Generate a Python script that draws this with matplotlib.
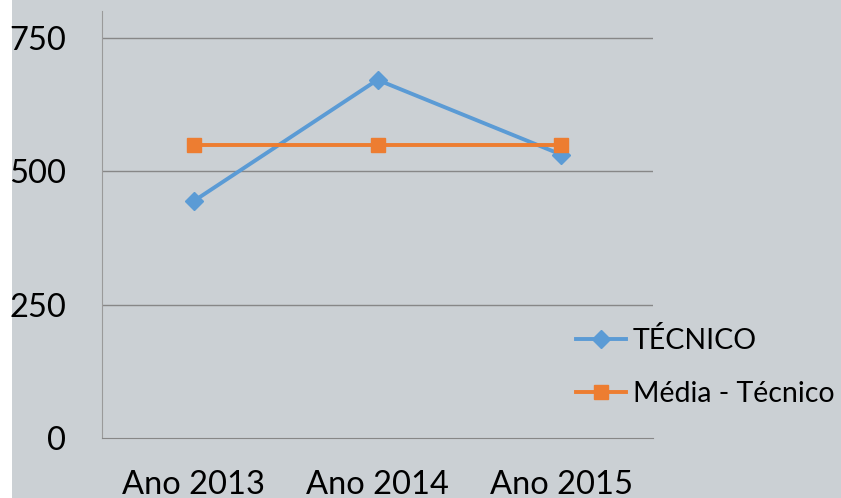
import numpy as np
import matplotlib.pyplot as plt
from matplotlib.patches import Rectangle

# data
anos = ['Ano 2013', 'Ano 2014', 'Ano 2015']
tecnico = [444, 671, 531]
media_tecnico = [549, 549, 549]
yticks = [0, 250, 500, 750]

plt.rcParams['font.family'] = ['Lato', 'DejaVu Sans']

bg = '#cbd0d4'
blue = '#5b9bd5'
orange = '#ed7d31'
grid = '#878787'

W, H = 841, 498
fig = plt.figure(figsize=(W/100, H/100), dpi=100, facecolor=bg)
# white strip on the left edge
fig.patches.append(Rectangle((0, 0), 12/W, 1, transform=fig.transFigure,
                             facecolor='white', edgecolor='none', zorder=-1))

ax = fig.add_axes([102/W, 1-438/H, (653-102)/W, (438-11)/H])
ax.set_facecolor(bg)

x = np.arange(len(anos))
ax.plot(x, tecnico, color=blue, lw=2.8, marker='D', ms=9, label='TÉCNICO',
        zorder=3)
ax.plot(x, media_tecnico, color=orange, lw=2.8, marker='s', ms=10,
        label='Média - Técnico', zorder=4)

ax.set_xlim(-0.5, len(anos)-0.5)
ax.set_ylim(0, 800)
ax.set_yticks(yticks)
ax.set_xticks(x)
ax.set_xticklabels(anos)
for v in yticks[1:]:
    ax.axhline(v, color=grid, lw=1, zorder=1)

for s in ['top', 'right']:
    ax.spines[s].set_visible(False)
ax.spines['left'].set_color('#9a9a9a')
ax.spines['bottom'].set_color(grid)
ax.tick_params(axis='both', length=0, colors='black')
ax.tick_params(axis='y', pad=26, labelsize=23.5)
ax.tick_params(axis='x', pad=23, labelsize=23.5)

leg = fig.legend(loc='center left', bbox_to_anchor=(576/W, 1-367/H),
                 frameon=False, fontsize=20.5, handlelength=1.75,
                 handletextpad=0.25, labelspacing=0.95, borderpad=0,
                 borderaxespad=0)

fig.savefig('out.png', dpi=100, facecolor=bg)
